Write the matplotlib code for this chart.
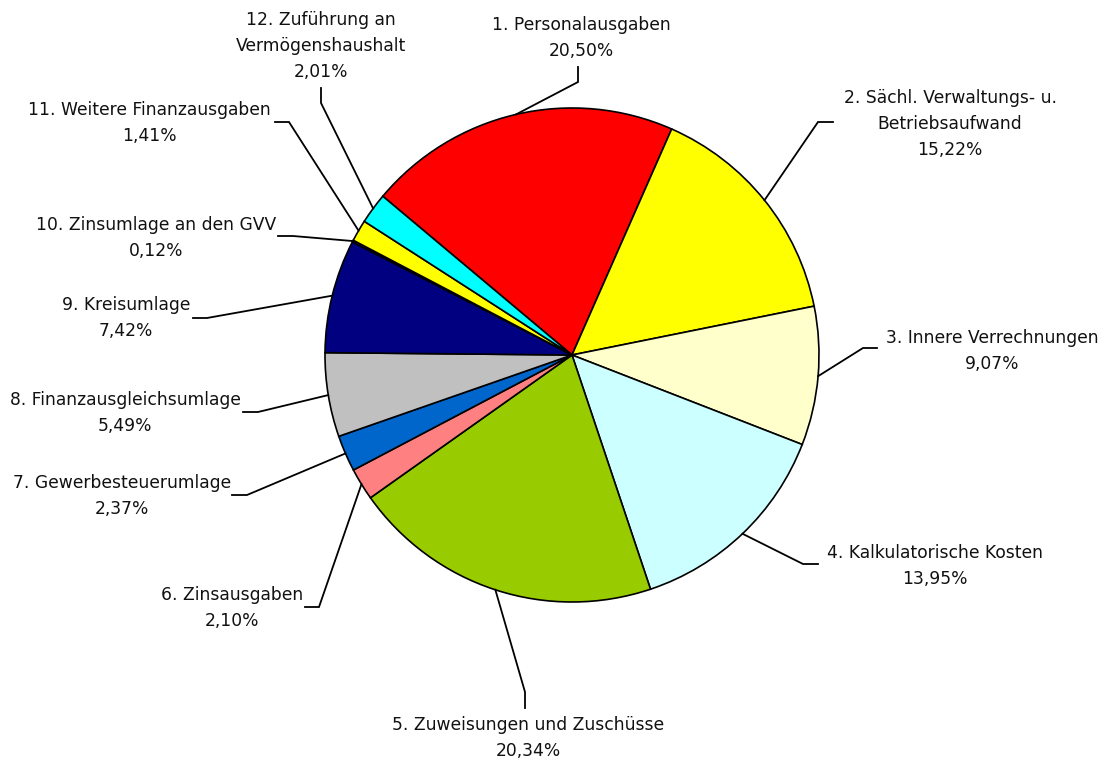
import numpy as np
import matplotlib
matplotlib.use("Agg")
import matplotlib.pyplot as plt

# Data
labels = [
    ["1. Personalausgaben"],
    ["2. Sächl. Verwaltungs- u.", "Betriebsaufwand"],
    ["3. Innere Verrechnungen"],
    ["4. Kalkulatorische Kosten"],
    ["5. Zuweisungen und Zuschüsse"],
    ["6. Zinsausgaben"],
    ["7. Gewerbesteuerumlage"],
    ["8. Finanzausgleichsumlage"],
    ["9. Kreisumlage"],
    ["10. Zinsumlage an den GVV"],
    ["11. Weitere Finanzausgaben"],
    ["12. Zuführung an", "Vermögenshaushalt"],
]
shares = [20.50, 15.22, 9.07, 13.95, 20.34, 2.10, 2.37, 5.49, 7.42, 0.12, 1.41, 2.01]
colors = ["#FF0000", "#FFFF00", "#FFFFCC", "#CCFFFF", "#99CC00", "#FF8080",
          "#0066CC", "#C0C0C0", "#000080", "#FF00FF", "#FFFF00", "#00FFFF"]

# Layout (pixel coords, y from top)
W, H = 1109, 760
CX, CY, R = 572, 355, 247
# leader elbow and end points, label centre x and first line y
elbows = [(578, 82), (818, 122), (863, 348), (803, 564), (525, 692), (319, 607),
          (247, 495), (258, 412), (207, 318), (293, 236), (289, 122), (321, 103)]
ends = [(578, 67), (833, 122), (877, 348), (818, 564), (525, 708), (305, 607),
        (232, 495), (243, 412), (193, 318), (278, 236), (275, 122), (321, 88)]
text_pos = [(581, 25), (950, 98), (992, 338), (935, 553), (528, 725), (232, 595),
            (122, 483), (125, 400), (126, 305), (156, 225), (149, 110), (321, 20)]
STEP = 26

def py(y):
    return H - y

fig = plt.figure(figsize=(W / 100, H / 100), dpi=100)
ax = fig.add_axes([0, 0, 1, 1])

wedges, _ = ax.pie(shares, colors=colors, startangle=140, counterclock=False,
                   radius=R, center=(CX, py(CY)),
                   wedgeprops=dict(edgecolor="black", linewidth=1.2))

for i, w in enumerate(wedges):
    mid = np.deg2rad((w.theta1 + w.theta2) / 2)
    sx = CX + R * np.cos(mid)
    sy = py(CY) + R * np.sin(mid)
    ex, ey = elbows[i]
    fx, fy = ends[i]
    ax.plot([sx, ex, fx], [sy, py(ey), py(fy)], color="black", lw=1.3,
            solid_joinstyle="miter")
    lines = labels[i] + [f"{shares[i]:.2f}%".replace(".", ",")]
    tx, ty = text_pos[i]
    for k, line in enumerate(lines):
        ax.text(tx, py(ty + k * STEP), line, ha="center", va="center",
                fontsize=12.3, family="DejaVu Sans", color="#111111")

ax.set_xlim(0, W)
ax.set_ylim(0, H)
ax.set_aspect("equal")
ax.axis("off")

fig.savefig("out.png", dpi=100, facecolor="white")
